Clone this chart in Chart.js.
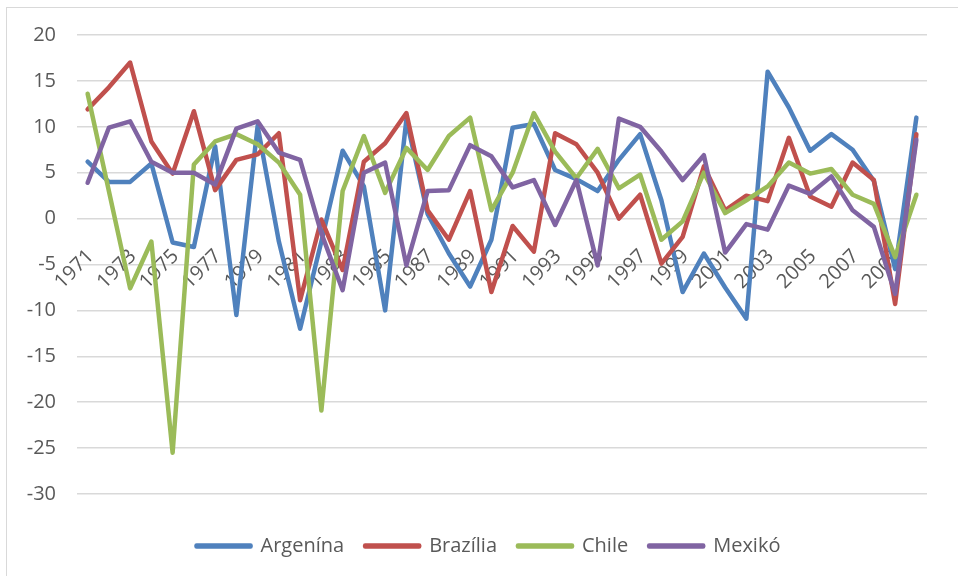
<!DOCTYPE html>
<html>
<head>
<meta charset="utf-8">
<script src="https://cdn.jsdelivr.net/npm/chart.js@4.4.1/dist/chart.umd.min.js"></script>
<style>
  body { margin: 0; background: #fff; }
  #wrap { width: 958px; height: 576px; }
</style>
</head>
<body>
<div id="wrap"><canvas id="chartGrowth" width="958" height="576"></canvas></div>
<script>
// years on the category axis
const years = ['1971','1972','1973','1974','1975','1976','1977','1978','1979','1980',
  '1981','1982','1983','1984','1985','1986','1987','1988','1989','1990',
  '1991','1992','1993','1994','1995','1996','1997','1998','1999','2000',
  '2001','2002','2003','2004','2005','2006','2007','2008','2009','2010'];

// values
const argentina = [6.2, 4.0, 4.0, 6.0, -2.6, -3.1, 7.9, -10.5, 10.1, -2.5,
  -12.0, -2.5, 7.4, 3.5, -10.0, 10.8, 0.5, -3.8, -7.4, -2.3,
  9.9, 10.3, 5.3, 4.3, 3.0, 6.4, 9.2, 2.0, -8.0, -3.8,
  -7.5, -10.9, 16.0, 12.1, 7.4, 9.2, 7.5, 4.1, -5.5, 11.0];
const brazil = [11.9, 14.3, 17.0, 8.4, 4.9, 11.7, 3.1, 6.4, 7.0, 9.3,
  -8.9, -0.1, -5.6, 6.2, 8.2, 11.5, 0.9, -2.3, 3.0, -8.0,
  -0.8, -3.6, 9.3, 8.1, 5.0, 0.0, 2.6, -4.9, -2.0, 5.7,
  0.9, 2.5, 1.9, 8.8, 2.4, 1.3, 6.1, 4.2, -9.3, 9.2];
const chile = [13.6, 3.0, -7.6, -2.5, -25.5, 5.9, 8.4, 9.2, 8.1, 6.1,
  2.6, -20.9, 3.0, 9.0, 2.8, 7.7, 5.3, 9.0, 11.0, 0.9,
  5.0, 11.5, 7.3, 4.4, 7.6, 3.3, 4.8, -2.3, -0.3, 5.0,
  0.6, 2.0, 3.5, 6.1, 4.9, 5.4, 2.6, 1.6, -4.2, 2.6];
const mexico = [3.9, 9.9, 10.6, 6.2, 5.0, 5.0, 3.7, 9.8, 10.6, 7.2,
  6.4, -1.6, -7.8, 5.0, 6.1, -5.1, 3.0, 3.1, 8.0, 6.8,
  3.4, 4.2, -0.7, 4.2, -5.1, 10.9, 10.0, 7.3, 4.2, 6.9,
  -3.7, -0.6, -1.2, 3.6, 2.7, 4.6, 0.9, -0.9, -8.2, 8.6];

const seriesNames = ['Argenína', 'Brazília', 'Chile', 'Mexikó'];
const seriesColors = ['#4f81bd', '#c0504d', '#9bbb59', '#8064a2'];
const yMin = -30, yMax = 20, yStep = 5;

const textColor = '#595959';
const fontName = "'Open Sans', sans-serif";

// white page plus the thin frame of the chart
const framePlugin = {
  id: 'frame',
  beforeDraw(chart) {
    const c = chart.ctx;
    c.save();
    c.fillStyle = '#ffffff';
    c.fillRect(0, 0, chart.width, chart.height);
    c.strokeStyle = '#d9d9d9';
    c.lineWidth = 1;
    c.strokeRect(6.5, 7.5, 1000, 1000);
    c.restore();
  },
  // the original legend is centred a bit right of the plot
  afterLayout(chart) {
    const lg = chart.legend;
    if (lg) { lg.left += 25; lg.right += 25; }
  }
};

function makeSet(i, values) {
  return {
    label: seriesNames[i],
    data: values,
    borderColor: seriesColors[i],
    backgroundColor: seriesColors[i],
    borderWidth: 4.5,
    borderCapStyle: 'round',
    borderJoinStyle: 'round',
    pointRadius: 0,
    tension: 0,
    order: 4 - i   // later series on top, like the original
  };
}

var ctx = document.getElementById('chartGrowth').getContext('2d');
var growthChart = new Chart(ctx, {
  type: 'line',
  data: {
    labels: years,
    datasets: [
      makeSet(0, argentina),
      makeSet(1, brazil),
      makeSet(2, chile),
      makeSet(3, mexico)
    ]
  },
  options: {
    responsive: false,
    animation: false,
    layout: {
      padding: { left: 0, right: 31, top: 35, bottom: 10 }
    },
    scales: {
      x: {
        type: 'category',
        offset: true,
        position: { y: 0 },
        grid: { display: false },
        border: { display: false },
        ticks: {
          autoSkip: false,
          maxRotation: 45,
          minRotation: 45,
          padding: 18,
          labelOffset: 3,
          color: textColor,
          font: { family: fontName, size: 20 },
          callback: function(val, index) {
            return index % 2 === 0 ? this.getLabelForValue(val) : '';
          }
        }
      },
      y: {
        min: yMin,
        max: yMax,
        grid: { color: '#d9d9d9', lineWidth: 1.5, drawTicks: false },
        border: { display: false },
        ticks: {
          stepSize: yStep,
          padding: 21,
          color: textColor,
          font: { family: fontName, size: 20 }
        },
        afterFit: (scale) => { scale.width = 77; }
      }
    },
    plugins: {
      tooltip: { enabled: false },
      legend: {
        position: 'bottom',
        title: { display: true, text: '', padding: 0, font: { size: 17.5 } },
        labels: {
          boxWidth: 54,
          boxHeight: 1,
          padding: 21,
          color: textColor,
          font: { family: fontName, size: 20 },
          sort: (a, b) => a.datasetIndex - b.datasetIndex
        }
      }
    }
  },
  plugins: [framePlugin]
});
</script>
</body>
</html>
